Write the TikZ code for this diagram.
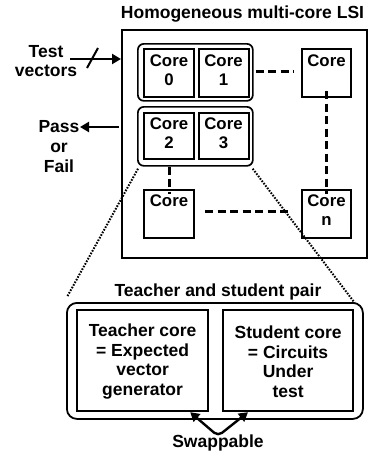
\documentclass[tikz,border=0pt]{standalone}
\usepackage{fontspec}
\setmainfont{Liberation Sans}
\usetikzlibrary{arrows.meta}
\tikzset{
  txt/.style={font=\bfseries\fontsize{17.5}{19.5}\selectfont, align=center, inner sep=0pt},
  corebox/.style={draw, line width=2pt, minimum width=50pt, minimum height=48pt, anchor=north west, inner sep=0pt},
  coretxt/.style={font=\bfseries\fontsize{16.8}{19}\selectfont, align=center, inner sep=0pt, anchor=north},
  grp/.style={draw, line width=1.7pt, rounded corners=6pt},
  dsh/.style={line width=3pt, dash pattern=on 8pt off 4.5pt},
  dtt/.style={line width=2pt, dash pattern=on 1.6pt off 1.4pt},
  bigbox/.style={draw, line width=2.2pt, inner sep=0pt, anchor=north west},
  headtip/.tip={Triangle[length=9pt,width=10pt]},
  arr/.style={line width=2.6pt, -headtip},
}
\begin{document}
\begin{tikzpicture}[x=1pt,y=-1pt]
\useasboundingbox (0,0) rectangle (370,455);

% title and chip outline
\node[txt] (title) at (242.5,14) {Homogeneous multi-core LSI};
\node[draw, line width=2.2pt, minimum width=245pt, minimum height=228pt, anchor=north west, inner sep=0pt] (lsi) at (121,29) {};

% teacher/student groupings
\node[grp, minimum width=115pt, minimum height=57pt, anchor=north west, inner sep=0pt] (g1) at (137,43) {};
\node[grp, minimum width=115pt, minimum height=59pt, anchor=north west, inner sep=0pt] (g2) at (137,106) {};

% cores
\node[corebox] (c0) at (143,48) {};
\node[corebox] (c1) at (197.5,48) {};
\node[corebox, minimum width=49pt] (ctr) at (301,48) {};
\node[corebox, minimum height=46pt] (c2) at (143,112) {};
\node[corebox, minimum height=46pt] (c3) at (197.5,112) {};
\node[corebox] (cbl) at (143,189) {};
\node[corebox, minimum width=49pt] (cn) at (301,189) {};

\node[coretxt] at ([yshift=-7pt]c0.north) {Core\\0};
\node[coretxt] at ([yshift=-7pt]c1.north) {Core\\1};
\node[coretxt] at ([yshift=-7pt]ctr.north) {Core};
\node[coretxt] at ([yshift=-6pt]c2.north) {Core\\2};
\node[coretxt] at ([yshift=-6pt]c3.north) {Core\\3};
\node[coretxt] at ([yshift=-6pt]cbl.north) {Core};
\node[coretxt] at ([yshift=-6pt]cn.north) {Core\\n};

% dashed links between cores
\draw[dsh] ([xshift=6pt]c1.east |- 0,71) -- ([xshift=-7pt]ctr.west |- 0,71);
\draw[dsh] ([yshift=7pt]ctr.south) -- ([yshift=-5pt]cn.north);
\draw[dsh] (g2.south -| c2.south) -- ([yshift=-5pt]cbl.north);
\draw[dsh] ([xshift=10pt]cbl.east |- 0,211) -- ([xshift=-12pt]cn.west |- 0,211);

% magnified pair
\node[grp, rounded corners=10pt, line width=1.8pt, minimum width=296pt, minimum height=116pt, anchor=north west, inner sep=0pt] (pair) at (66,302) {};
\node[bigbox, minimum width=131pt, minimum height=101pt] (teacher) at (76,309) {};
\node[bigbox, minimum width=130pt, minimum height=101pt] (student) at (222,309) {};
\node[txt] at ([yshift=-1pt]teacher.center) {Teacher core\\= Expected\\vector\\generator};
\node[txt] at ([yshift=-1pt]student.center) {Student core\\= Circuits\\Under\\test};
\node[txt] (pairlbl) at (218,292) {Teacher and student pair};

% zoom lines
\draw[dtt] ([xshift=1pt,yshift=-2pt]g2.south west) -- ([xshift=1pt,yshift=5pt]pair.north west);
\draw[dtt] ([xshift=-1pt,yshift=-2pt]g2.south east) -- ([xshift=-9pt,yshift=-1pt]pair.north east);

% swap arrow
\node[txt] (swap) at (218,443) {Swappable};
\coordinate (vtx) at (218,436);
\draw[line width=2.4pt, headtip-headtip, rounded corners=5pt]
  ([xshift=-19pt]teacher.south east) -- (vtx) -- ([xshift=26pt]student.south west);

% I/O
\node[txt] (tv) at (46,61) {Test\\[-1pt]vectors};
\coordinate (tvs) at (70,59);
\draw[arr] (tvs) -- (lsi.west |- tvs);
\draw[line width=2pt] (87,68) -- (98,48);
\node[txt, align=center] (pf) at (59,147) {Pass\\[0.5pt]or\\[0.5pt]Fail};
\coordinate (pfe) at (80,127);
\draw[arr] ([xshift=-2pt]lsi.west |- pfe) -- (pfe);
\end{tikzpicture}
\end{document}
